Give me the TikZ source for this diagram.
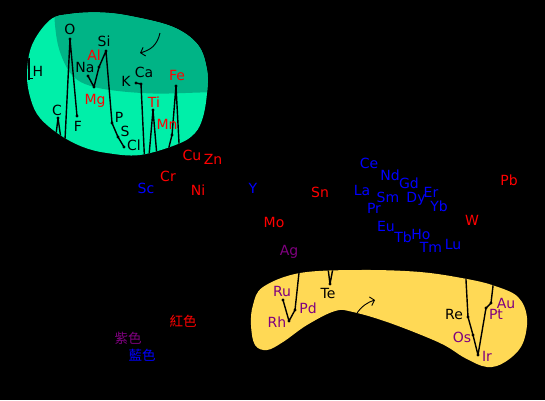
\documentclass[tikz,border=0pt]{standalone}
\usepackage{fontspec}
\setmainfont{DejaVu Sans}
\newfontfamily\cjkfont{Noto Sans CJK TC}
\usetikzlibrary{arrows.meta}
\definecolor{lgreen}{HTML}{00EFA9}
\definecolor{dgreen}{HTML}{00B486}
\definecolor{yel}{HTML}{FFD955}
\definecolor{prp}{HTML}{800080}
\begin{document}
\begin{tikzpicture}[x=1pt,y=-1pt,
  lbl/.style={font=\fontsize{14}{16}\selectfont, inner sep=0pt, anchor=center},
  klbl/.style={lbl,text=black},
  rlbl/.style={lbl,text=red},
  blbl/.style={lbl,text=blue},
  plbl/.style={lbl,text=prp},
  clbl/.style={inner sep=0pt, font=\cjkfont\fontsize{13.5}{15}\selectfont},
  dataline/.style={line width=1.4pt, line join=round, draw=black},
  dot/.style={circle, fill=black, inner sep=0pt, minimum size=3.4pt},
  arr/.style={line width=0.9pt, -{Straight Barb[length=4pt,width=9pt]}}
]
\fill[black] (0,0) rectangle (545,400);
\useasboundingbox (0,0) rectangle (545,400);

% ---------- green region ----------
\def\greenpath{plot[smooth cycle, tension=0.6] coordinates {(70,14) (100,12.5) (130,16) (173,27) (198,45) (207,70) (207,93) (203,117) (195,133) (178,144) (140,155) (107,153) (83,147) (60,135) (40,118) (31,100) (27,75) (32,45) (50,20)}}
\fill[lgreen] \greenpath;
\begin{scope}
  \clip \greenpath;
  \fill[dgreen] plot[smooth, tension=0.6] coordinates {(54,5) (55,25) (58,45) (64,62) (72,75) (85,84) (110,90) (153,93.5) (200,92.5) (215,92)} -- (215,0) -- (54,0) -- cycle;
  % data points
  \coordinate (pB) at (53,160);
  \coordinate (pC) at (58,118);
  \coordinate (pN) at (64,160);
  \coordinate (pO) at (70,39);
  \coordinate (pF) at (77,116);
  \coordinate (pNa) at (88,76);
  \coordinate (pMg) at (94,87);
  \coordinate (pAl) at (99,67);
  \coordinate (pSi) at (106,51);
  \coordinate (pP) at (112,123);
  \coordinate (pS) at (118,137);
  \coordinate (pCl) at (124,147);
  \coordinate (pK) at (136,83);
  \coordinate (pCa) at (141,84);
  \coordinate (pSc) at (146,190);
  \coordinate (pTi) at (153,110);
  \coordinate (pV) at (159,180);
  \coordinate (pCr) at (165,163);
  \coordinate (pMn) at (172,135);
  \coordinate (pFe) at (176,86);
  \coordinate (pCo) at (182,200);
  \draw[dataline] (28.8,58) -- (28.8,80);
  \draw[dataline] (28.8,78.5) -- (33,78.5);
  \draw[dataline] (pB) -- (pC) -- (pN) -- (pO) -- (pF);
  \draw[dataline] (pNa) -- (pMg) -- (pAl) -- (pSi) -- (pP) -- (pS) -- (pCl);
  \draw[dataline] (pK) -- (pCa) -- (pSc) -- (pTi) -- (pV) -- (pCr) -- (pMn) -- (pFe) -- (pCo);
  \foreach \p in {pC,pO,pF,pNa,pMg,pAl,pSi,pP,pS,pCl,pK,pCa,pTi,pMn,pFe}
    \node[dot] at (\p) {};
\end{scope}
\coordinate (ga1) at (160,33);
\coordinate (ga2) at (140,53);
\draw[arr] (ga1) .. controls (157,46) and (150,50) .. (ga2);

% ---------- yellow region ----------
\def\yellowpath{plot[smooth cycle, tension=0.6] coordinates {(263,287) (300,273) (360,270) (420,272) (467,279) (495,286) (518,297) (527,318) (522,345) (505,362) (487,367) (465,358) (440,343) (390,323) (353,312) (335,311) (307,325) (283,342) (267,350) (255,345) (251,325) (253,305)}}
\fill[yel] \yellowpath;
\begin{scope}
  \clip \yellowpath;
  \coordinate (pRu) at (283,300);
  \coordinate (pRh) at (289,321);
  \coordinate (pPd) at (295,310);
  \coordinate (pAg) at (301,254);
  \coordinate (pSb) at (324,236);
  \coordinate (pTe) at (330,284);
  \coordinate (pI) at (336,252);
  \coordinate (pW) at (462,206);
  \coordinate (pRe) at (468,317);
  \coordinate (pOs) at (473,335);
  \coordinate (pIr) at (478,355);
  \coordinate (pPt) at (486,308);
  \coordinate (pAu) at (491,303);
  \coordinate (pHg) at (497,252);
  \draw[dataline] (pRu) -- (pRh) -- (pPd) -- (pAg);
  \draw[dataline] (pSb) -- (pTe) -- (pI);
  \draw[dataline] (pW) -- (pRe) -- (pOs) -- (pIr) -- (pPt) -- (pAu) -- (pHg);
  \foreach \p in {pRu,pRh,pPd,pTe,pRe,pOs,pIr,pPt,pAu}
    \node[dot] at (\p) {};
\end{scope}
\coordinate (ya1) at (357,313);
\coordinate (ya2) at (375,300);
\draw[arr] (ya1) .. controls (362,306) and (368,302) .. (ya2);

% ---------- labels: green region ----------
\node[klbl] (H) at (38,71) {H};
\node[klbl] (O) at (70,29) {O};
\node[rlbl] (Al) at (94,55) {Al};
\node[klbl] (Si) at (104,41) {Si};
\node[klbl] (Na) at (85,67) {Na};
\node[rlbl] (Mg) at (95,101) {Mg};
\node[klbl] (K) at (126,81) {K};
\node[klbl] (Ca) at (144,72) {Ca};
\node[rlbl] (Fe) at (177,75) {Fe};
\node[klbl] (C) at (57,110) {C};
\node[klbl] (F) at (78,126) {F};
\node[klbl] (P) at (119,117) {P};
\node[klbl] (S) at (125,131) {S};
\node[rlbl] (Ti) at (154,102) {Ti};
\node[rlbl] (Mn) at (167,124) {Mn};
\node[klbl] (Cl) at (134,145) {Cl};

% ---------- labels: middle ----------
\node[rlbl] (Cu) at (192,155) {Cu};
\node[rlbl] (Zn) at (213,159) {Zn};
\node[rlbl] (Cr) at (168,176) {Cr};
\node[blbl] (Sc) at (146,188) {Sc};
\node[rlbl] (Ni) at (198,190) {Ni};
\node[blbl] (Y) at (253,188) {Y};
\node[rlbl] (Sn) at (320,192) {Sn};
\node[rlbl] (Mo) at (274,222) {Mo};
\node[plbl] (Ag) at (289,252) {Ag};
\node[blbl] (Ce) at (369,163) {Ce};
\node[blbl] (Nd) at (390,175) {Nd};
\node[blbl] (Gd) at (409,183) {Gd};
\node[blbl] (La) at (362,190) {La};
\node[blbl] (Sm) at (388,197) {Sm};
\node[blbl] (Dy) at (416,199) {Dy};
\node[blbl] (Er) at (431,192) {Er};
\node[blbl] (Yb) at (439,206) {Yb};
\node[blbl] (Pr) at (374,208) {Pr};
\node[rlbl] (Pb) at (509,180) {Pb};
\node[rlbl] (W) at (472,220) {W};
\node[blbl] (Eu) at (386,226) {Eu};
\node[blbl] (Tb) at (403,237) {Tb};
\node[blbl] (Ho) at (421,234) {Ho};
\node[blbl] (Tm) at (431,247) {Tm};
\node[blbl] (Lu) at (453,244) {Lu};

% ---------- labels: yellow region ----------
\node[plbl] (Ru) at (282,291) {Ru};
\node[plbl] (Rh) at (277,322) {Rh};
\node[plbl] (Pd) at (308,308) {Pd};
\node[klbl] (Te) at (328,293) {Te};
\node[klbl] (Re) at (454,314) {Re};
\node[plbl] (Os) at (462,337) {Os};
\node[plbl] (Ir) at (487,356) {Ir};
\node[plbl] (Pt) at (496,314) {Pt};
\node[plbl] (Au) at (506,303) {Au};

% ---------- legend ----------
\node[clbl, text=red] (lr) at (183,321) {紅色};
\node[clbl, text=prp] (lp) at (128,338) {紫色};
\node[clbl, text=blue] (lb) at (142,355) {藍色};
\end{tikzpicture}
\end{document}
